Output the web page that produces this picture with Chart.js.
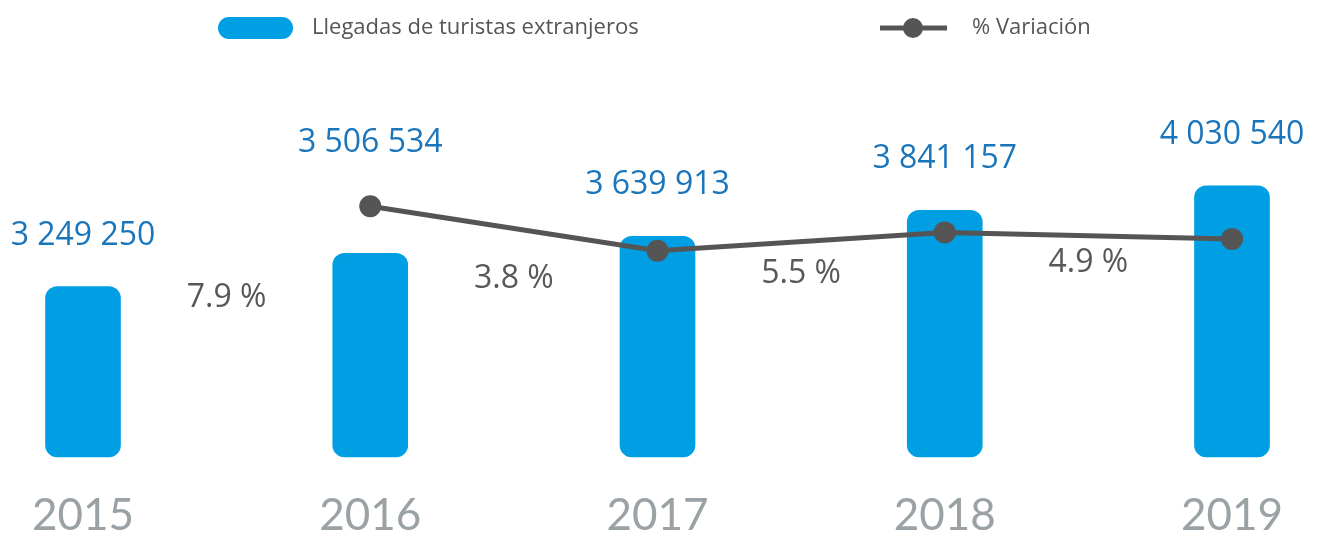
<!DOCTYPE html>
<html>
<head>
<meta charset="utf-8">
<script src="https://cdn.jsdelivr.net/npm/chart.js@4/dist/chart.umd.min.js"></script>
<style>
  html, body { margin: 0; padding: 0; background: #ffffff; }
  canvas { display: block; }
</style>
</head>
<body>
<canvas id="c" width="1321" height="535"></canvas>
<script>
// ---- data ----
const years = ['2015', '2016', '2017', '2018', '2019'];
const arrivals = [3249250, 3506534, 3639913, 3841157, 4030540];
const variation = [null, 7.9, 3.8, 5.5, 4.9];
const arrivalsLabel = 'Llegadas de turistas extranjeros';
const variationLabel = '% Variación';

// ---- styles ----
const BAR_COLOR = '#009fe3';
const LINE_COLOR = '#555555';
const VALUE_COLOR = '#1a75bb';
const PCT_COLOR = '#585858';
const YEAR_COLOR = '#9aa2a5';
const Y_MIN = 1927000;
const Y_MAX = 4697000;
const pctBaselines = [307, 288, 283, 272];

function fmtSpace(n) {
  return String(n).replace(/\B(?=(\d{3})+(?!\d))/g, ' ');
}

const labelsPlugin = {
  id: 'labelsPlugin',
  afterDatasetsDraw(chart) {
    const ctx = chart.ctx;
    const barMeta = chart.getDatasetMeta(0);
    const lineMeta = chart.getDatasetMeta(1);
    ctx.save();
    ctx.font = '32px "Open Sans"';
    ctx.fillStyle = VALUE_COLOR;
    ctx.textAlign = 'center';
    ctx.textBaseline = 'alphabetic';
    barMeta.data.forEach((bar, i) => {
      let anchor = bar.y;
      const pt = lineMeta.data[i];
      if (variation[i] != null && pt && pt.y - 12 < anchor) anchor = pt.y - 12;
      ctx.fillText(fmtSpace(arrivals[i]), bar.x, anchor - 42);
    });
    ctx.fillStyle = PCT_COLOR;
    variation.forEach((v, i) => {
      if (v == null) return;
      const x = (barMeta.data[i - 1].x + barMeta.data[i].x) / 2;
      ctx.fillText(v.toFixed(1) + ' %', x, pctBaselines[i - 1]);
    });
    ctx.restore();
  },
  afterDraw(chart) {
    const ctx = chart.ctx;
    ctx.save();
    ctx.fillStyle = BAR_COLOR;
    ctx.beginPath();
    ctx.roundRect(218, 17, 75, 22, 11);
    ctx.fill();
    ctx.font = '22px "Open Sans"';
    ctx.fillStyle = '#555555';
    ctx.textAlign = 'left';
    ctx.textBaseline = 'middle';
    ctx.fillText(arrivalsLabel, 312, 28);
    ctx.strokeStyle = LINE_COLOR;
    ctx.lineWidth = 5;
    ctx.beginPath();
    ctx.moveTo(880, 28);
    ctx.lineTo(947, 28);
    ctx.stroke();
    ctx.fillStyle = LINE_COLOR;
    ctx.beginPath();
    ctx.arc(913, 28, 10, 0, Math.PI * 2);
    ctx.fill();
    ctx.fillStyle = '#555555';
    ctx.fillText(variationLabel, 972, 28);
    ctx.restore();
  }
};

new Chart(document.getElementById('c'), {
  data: {
    labels: years,
    datasets: [
      {
        type: 'bar',
        label: arrivalsLabel,
        data: arrivals,
        base: Y_MIN,
        backgroundColor: BAR_COLOR,
        borderRadius: 12,
        borderSkipped: false,
        barThickness: 75,
        yAxisID: 'y',
        order: 2,
        clip: false
      },
      {
        type: 'line',
        label: variationLabel,
        data: variation,
        borderColor: LINE_COLOR,
        backgroundColor: LINE_COLOR,
        borderWidth: 5,
        pointRadius: 11,
        pointHoverRadius: 11,
        pointBackgroundColor: LINE_COLOR,
        pointBorderWidth: 0,
        tension: 0,
        yAxisID: 'y1',
        order: 1,
        clip: false
      }
    ]
  },
  options: {
    responsive: false,
    animation: false,
    layout: { padding: { top: 100, left: 83, right: 89, bottom: 0 } },
    plugins: {
      legend: { display: false },
      tooltip: { enabled: false }
    },
    scales: {
      x: {
        type: 'category',
        offset: false,
        grid: { display: false, drawTicks: false },
        border: { display: false },
        ticks: {
          color: YEAR_COLOR,
          font: { family: 'Lato', size: 44, lineHeight: 1.0 },
          padding: 37,
          maxRotation: 0
        },
        afterFit(scale) {
          scale.height = 78;
          scale.paddingLeft = 0;
          scale.paddingRight = 0;
        }
      },
      y: {
        display: false,
        min: Y_MIN,
        max: Y_MAX
      },
      y1: {
        display: false,
        position: 'right',
        min: -15.2,
        max: 17.7
      }
    }
  },
  plugins: [labelsPlugin]
});
</script>
</body>
</html>
